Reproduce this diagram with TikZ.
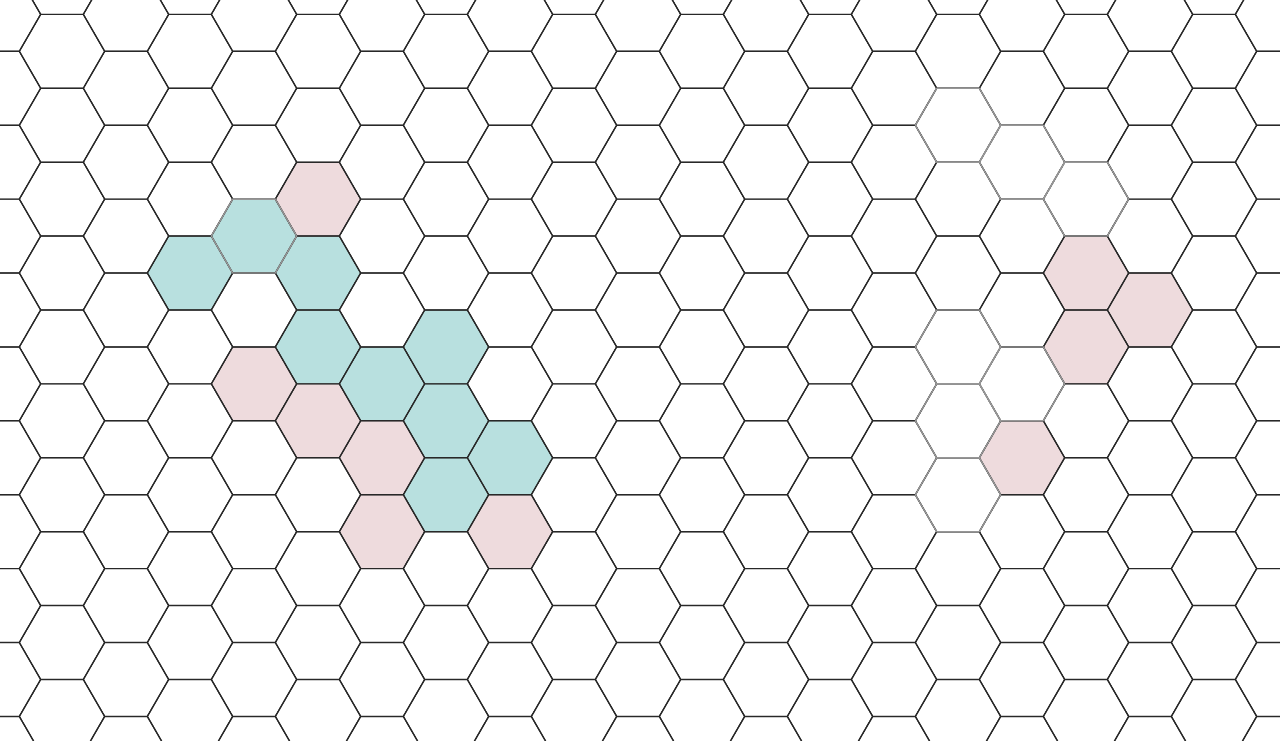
\documentclass[tikz,border=0pt]{standalone}
\definecolor{tealfill}{RGB}{184,224,223}
\definecolor{pinkfill}{RGB}{238,219,221}
\definecolor{gridline}{RGB}{40,40,40}
\definecolor{fadeline}{RGB}{150,150,150}
\newcommand\hexshape[2]{(#1+42.67,#2) -- (#1+21.33,#2+36.95) -- (#1-21.33,#2+36.95) -- (#1-42.67,#2) -- (#1-21.33,#2-36.95) -- (#1+21.33,#2-36.95) -- cycle}
% hex by column index i and row index k
\newcommand\hexik[3]{%
  \pgfmathsetmacro\hcx{62+64*#1}%
  \pgfmathsetmacro\hcy{51.3+73.9*#2-36.95*mod(abs(#1),2)}%
  \path[#3] \hexshape{\hcx}{\hcy};}
\begin{document}
\begin{tikzpicture}[x=1pt,y=-1pt,
  gridhex/.style={draw=gridline,line width=1.2pt,line join=round},
  fadedhex/.style={draw=fadeline,line width=1.3pt,line join=round},
  tealhex/.style={fill=tealfill},
  pinkhex/.style={fill=pinkfill}]
\useasboundingbox (0,0) rectangle (1280,740);
\fill[white] (0,0) rectangle (1280,740);
\clip (0,0) rectangle (1280,740);
% coloured cells
\foreach \i/\k in {2/3,3/3,4/3,4/4,5/5,6/4,6/5,7/6,6/6}{\hexik{\i}{\k}{tealhex}}
\foreach \i/\k in {4/2,3/5,4/5,5/6,5/7,7/7,16/3,17/4,16/4,15/6}{\hexik{\i}{\k}{pinkhex}}
% grid
\foreach \i in {-1,...,20}{
  \foreach \k in {-1,...,10}{\hexik{\i}{\k}{gridhex}}}
% faded cells
\foreach \i/\k in {3/3,14/1,15/2,16/2,14/4,15/5,14/5,14/6}{\hexik{\i}{\k}{fadedhex}}
\end{tikzpicture}
\end{document}
